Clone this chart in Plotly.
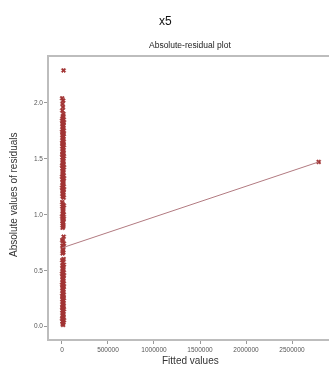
import plotly.graph_objects as go

# residual cluster: fitted values near zero
cluster_y = [
    0.01, 0.02, 0.03, 0.04, 0.05, 0.06, 0.07, 0.08, 0.09, 0.10,
    0.11, 0.12, 0.13, 0.14, 0.15, 0.16, 0.17, 0.18, 0.19, 0.20,
    0.21, 0.22, 0.23, 0.24, 0.25, 0.26, 0.27, 0.28, 0.29, 0.30,
    0.31, 0.32, 0.33, 0.34, 0.35, 0.36, 0.37, 0.38, 0.39, 0.40,
    0.41, 0.42, 0.43, 0.44, 0.45, 0.46, 0.47, 0.48, 0.49, 0.50,
    0.51, 0.52, 0.53, 0.54, 0.55, 0.57, 0.59, 0.60, 0.65, 0.66,
    0.68, 0.69, 0.71, 0.72, 0.74, 0.76, 0.77, 0.80, 0.88, 0.89,
    0.90, 0.92, 0.93, 0.94, 0.96, 0.97, 0.98, 1.00, 1.01, 1.02,
    1.03, 1.05, 1.06, 1.07, 1.08, 1.09, 1.11, 1.15, 1.16, 1.17,
    1.18, 1.19, 1.20, 1.21, 1.22, 1.23, 1.24, 1.25, 1.26, 1.27,
    1.28, 1.29, 1.30, 1.31, 1.32, 1.33, 1.34, 1.35, 1.36, 1.37,
    1.38, 1.39, 1.40, 1.41, 1.42, 1.43, 1.44, 1.45, 1.46, 1.47,
    1.48, 1.49, 1.50, 1.51, 1.52, 1.53, 1.54, 1.55, 1.56, 1.57,
    1.58, 1.59, 1.60, 1.61, 1.62, 1.63, 1.64, 1.65, 1.66, 1.67,
    1.68, 1.69, 1.70, 1.71, 1.72, 1.73, 1.74, 1.75, 1.76, 1.77,
    1.78, 1.79, 1.80, 1.81, 1.82, 1.83, 1.84, 1.85, 1.86, 1.87,
    1.88, 1.90, 1.93, 1.96, 1.99, 2.02, 2.04, 2.29,
]
cluster_x = [
    12000, 8000, 15000, 5000, 20000, 10000, 3000, 18000, 7000, 14000,
] * 16 + [9000, 16000, 4000, 11000, 6000, 13000, 2000, 17000]

# one large fitted value
outlier_x = [2790000]
outlier_y = [1.47]

# fitted trend line
line_x = [0, 2790000]
line_y = [0.70, 1.47]

x_ticks = [0, 500000, 1000000, 1500000, 2000000, 2500000]
y_ticks = [0.0, 0.5, 1.0, 1.5, 2.0]

font = "Liberation Sans, Arial, sans-serif"

W, H = 329, 372
L, R, T, B = 49, 0, 57, 33
pw, ph = W - L - R, H - T - B


def px_x(p):
    return (p - L) / pw


def px_y(p):
    return (H - B - p) / ph


fig = go.Figure()
fig.add_trace(go.Scatter(
    x=cluster_x + outlier_x, y=cluster_y + outlier_y, mode="markers",
    marker=dict(symbol="x", size=4, color="#8b0000",
                line=dict(width=0.5, color="#8b0000")),
    opacity=0.8, showlegend=False, hoverinfo="skip"))
fig.add_trace(go.Scatter(
    x=line_x, y=line_y, mode="lines",
    line=dict(color="#b27a80", width=1), showlegend=False, hoverinfo="skip"))

axis_common = dict(
    showgrid=False, zeroline=False, showline=True, linecolor="#bdbdbd",
    linewidth=1.5, ticks="outside", ticklen=3, tickcolor="#999999",
    tickfont=dict(size=6.5, color="#555555", family=font), automargin=False,
)


def ann(text, x, y, size, color, angle=0):
    return dict(text=text, x=px_x(x), y=px_y(y), xref="paper", yref="paper",
                xanchor="center", yanchor="middle", showarrow=False,
                textangle=angle, font=dict(size=size, color=color))


fig.update_layout(
    width=W, height=H,
    margin=dict(l=L, r=R, t=T, b=B),
    paper_bgcolor="white", plot_bgcolor="white",
    font=dict(family=font),
    annotations=[
        ann("x5", 165, 21, 12, "#111111"),
        ann("Absolute-residual plot", 190, 45, 8.5, "#222222"),
        ann("Fitted values", 190, 360, 10, "#333333"),
        ann("Absolute values of residuals", 13, 195, 10, "#333333", -90),
    ],
    xaxis=dict(**axis_common, range=[-141000, 2902000], tickvals=x_ticks,
               tickformat="d", mirror=True),
    yaxis=dict(**axis_common, range=[-0.116, 2.41], tickvals=y_ticks,
               tickformat=".1f"),
)

fig.write_html("out.html", config={"displayModeBar": False},
               post_script="document.body.style.margin='0';")
